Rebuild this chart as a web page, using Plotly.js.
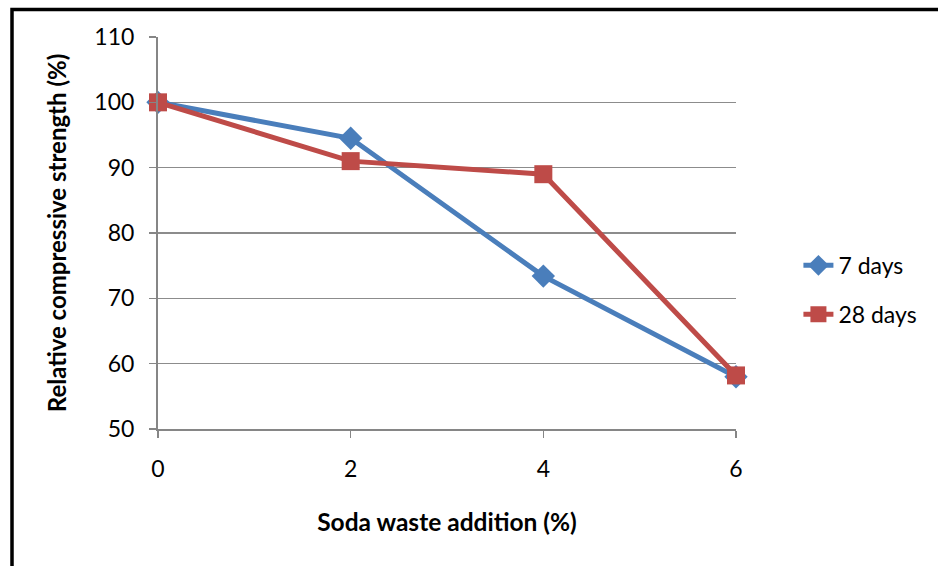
<!DOCTYPE html>
<html>
<head>
<meta charset="utf-8">
<script src="https://cdn.plot.ly/plotly-3.0.1.min.js"></script>
<style>
  html, body { margin: 0; padding: 0; background: #ffffff; }
  #chart { width: 938px; height: 566px; }
</style>
</head>
<body>
<div id="chart"></div>
<script>
// Soda waste addition levels (%)
const additions = [0, 2, 4, 6];
// Relative compressive strength (%) at each curing age
const days7 = [100, 94.5, 73.4, 58.0];
const days28 = [100, 91.0, 89.0, 58.2];
const yTicks = [50, 60, 70, 80, 90, 100, 110];

const font = 'Lato, "Open Sans", sans-serif';

const traces = [
  {
    x: additions, y: days7, name: '7 days', mode: 'lines+markers',
    legendgroup: 'a', cliponaxis: false,
    line: { color: '#4a7ebb', width: 5 },
    marker: { symbol: 'diamond', size: 18, color: '#4a7ebb' }
  },
  {
    x: additions, y: days28, name: '28 days', mode: 'lines+markers',
    legendgroup: 'b', cliponaxis: false,
    line: { color: '#be4b48', width: 5 },
    marker: { symbol: 'square', size: 18, color: '#be4b48' }
  }
];

const layout = {
  width: 938, height: 566,
  margin: { l: 158, r: 202, t: 37, b: 137 },
  paper_bgcolor: '#ffffff', plot_bgcolor: '#ffffff',
  font: { family: font, color: '#000000', size: 23 },
  showlegend: true,
  legend: {
    x: 1.108, xanchor: 'left', y: 0.355, yanchor: 'middle',
    font: { size: 23, family: font },
    traceorder: 'grouped', tracegroupgap: 16,
    bgcolor: 'rgba(0,0,0,0)'
  },
  xaxis: {
    range: [0, 6], tickvals: additions, ticktext: additions.map(String),
    showgrid: false, zeroline: false,
    showline: true, linecolor: '#868686', linewidth: 2,
    ticks: 'outside', ticklen: 7, tickcolor: '#868686', tickwidth: 1.5,
    tickfont: { size: 23, family: font }, ticklabelstandoff: 11,
    title: { text: '<b>Soda waste addition (%)</b>', font: { size: 24.5, family: font }, standoff: 33 }
  },
  yaxis: {
    range: [50, 110], tickvals: yTicks,
    showgrid: true, gridcolor: '#8c8c8c', gridwidth: 1.5,
    zeroline: false,
    showline: true, linecolor: '#868686', linewidth: 2,
    ticks: 'outside', ticklen: 7, tickcolor: '#868686', tickwidth: 1.5,
    tickfont: { size: 23, family: font }, ticklabelstandoff: 10,
    title: { text: '<b>Relative compressive strength (%)</b>', font: { size: 24, family: font }, standoff: 21 }
  },
  shapes: [
    {
      type: 'rect', xref: 'paper', yref: 'paper',
      x0: (12 - 158) / 578, x1: 2, y0: -1, y1: (429 - 9.5) / 392,
      line: { color: '#000000', width: 3.5 }, fillcolor: 'rgba(0,0,0,0)', layer: 'below'
    }
  ]
};

Plotly.newPlot('chart', traces, layout, { displayModeBar: false, staticPlot: true });
</script>
</body>
</html>
